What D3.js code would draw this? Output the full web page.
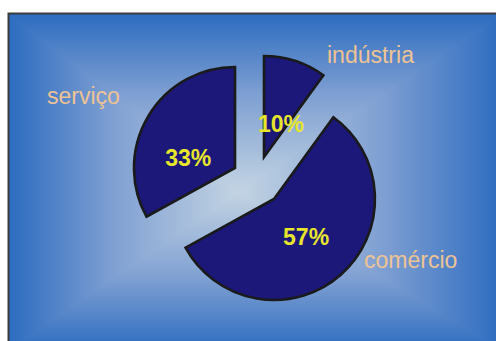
<!DOCTYPE html>
<html>
<head>
<meta charset="utf-8">
<script src="https://cdn.jsdelivr.net/npm/d3@7"></script>
<style>
  body { margin: 0; background: #fff; }
  svg { display: block; }
</style>
</head>
<body>
<svg id="chart" width="496" height="341"></svg>
<script>
// chart data
var categories = ["indústria", "comércio", "serviço"];
var values = [10, 57, 33];
var pctLabels = ["10%", "57%", "33%"];

var W = 496, H = 341;
var radius = 101;
var pieCenter = [256, 180];
// how far each slice is pulled out of the pie (dx, dy)
var explode = [[8, -23], [18, 19], [-21, -12]];
// nudges for the percent labels (relative to the slice centroid)
var pctNudge = [[2, 13], [0, 1], [-5, 14]];
// category label anchor points
var catPos = [[327, 63], [364, 268], [47, 104]];

var svg = d3.select("#chart");
var defs = svg.append("defs");

// frame with a rectangular "from centre" gradient
var frame = {x0: 9, y0: 14, x1: 502, y1: 350};
var gc = [238, 192];
var light = "#c3d4e3", dark = "#2d6cc0";

function grad(id, x1, y1, x2, y2) {
    var g = defs.append("linearGradient").attr("id", id)
        .attr("gradientUnits", "userSpaceOnUse")
        .attr("x1", x1).attr("y1", y1).attr("x2", x2).attr("y2", y2);
    g.append("stop").attr("offset", 0).attr("stop-color", light);
    g.append("stop").attr("offset", 0.55).attr("stop-color", "#7e9fd2");
    g.append("stop").attr("offset", 1).attr("stop-color", dark);
}
grad("gTop", gc[0], gc[1], gc[0], frame.y0);
grad("gBottom", gc[0], gc[1], gc[0], frame.y1);
grad("gLeft", gc[0], gc[1], frame.x0, gc[1]);
grad("gRight", gc[0], gc[1], frame.x1, gc[1]);

var bg = svg.append("g");
// left and right halves as plain rects, top/bottom wedges laid over them
bg.append("rect")
    .attr("x", frame.x0).attr("y", frame.y0)
    .attr("width", gc[0] - frame.x0 + 1).attr("height", frame.y1 - frame.y0)
    .attr("fill", "url(#gLeft)");
bg.append("rect")
    .attr("x", gc[0]).attr("y", frame.y0)
    .attr("width", frame.x1 - gc[0]).attr("height", frame.y1 - frame.y0)
    .attr("fill", "url(#gRight)");
var tl = [frame.x0, frame.y0], tr = [frame.x1, frame.y0],
    br = [frame.x1, frame.y1], bl = [frame.x0, frame.y1];
[[tl, tr, "gTop"], [br, bl, "gBottom"]].forEach(function(t) {
    bg.append("path")
        .attr("d", "M" + t[0] + "L" + t[1] + "L" + gc + "Z")
        .attr("fill", "url(#" + t[2] + ")");
});
svg.append("rect")
    .attr("x", frame.x0 - 0.5).attr("y", frame.y0 - 0.5)
    .attr("width", frame.x1 - frame.x0).attr("height", frame.y1 - frame.y0)
    .attr("fill", "none").attr("stroke", "#3a3a3a").attr("stroke-width", 2);

// pie
var pie = d3.pie().sort(null).value(function(d) { return d; });
var arcs = pie(values);
var arc = d3.arc().innerRadius(0).outerRadius(radius);
var labelArc = d3.arc().innerRadius(radius * 0.48).outerRadius(radius * 0.48);

var slices = svg.append("g")
    .attr("transform", "translate(" + pieCenter + ")")
    .selectAll("g.slice")
    .data(arcs)
    .enter().append("g")
    .attr("class", "slice")
    .attr("transform", function(d, i) { return "translate(" + explode[i] + ")"; });

slices.append("path")
    .attr("d", arc)
    .attr("fill", "#1b1879")
    .attr("stroke", "#1a1a1a")
    .attr("stroke-width", 2.6)
    .attr("stroke-linejoin", "miter");

slices.append("text")
    .attr("transform", function(d, i) {
        var c = labelArc.centroid(d);
        return "translate(" + (c[0] + pctNudge[i][0]) + "," + (c[1] + pctNudge[i][1]) + ")";
    })
    .attr("text-anchor", "middle")
    .attr("dy", "0.36em")
    .attr("font-family", "Liberation Sans, Arial, sans-serif")
    .attr("font-weight", "bold")
    .attr("font-size", 23)
    .attr("fill", "#e8e62a")
    .text(function(d, i) { return pctLabels[i]; });

// category labels
svg.append("g").selectAll("text")
    .data(categories)
    .enter().append("text")
    .attr("x", function(d, i) { return catPos[i][0]; })
    .attr("y", function(d, i) { return catPos[i][1]; })
    .attr("font-family", "Liberation Sans, Arial, sans-serif")
    .attr("font-size", 23)
    .attr("fill", "#efc394")
    .text(function(d) { return d; });
</script>
</body>
</html>
